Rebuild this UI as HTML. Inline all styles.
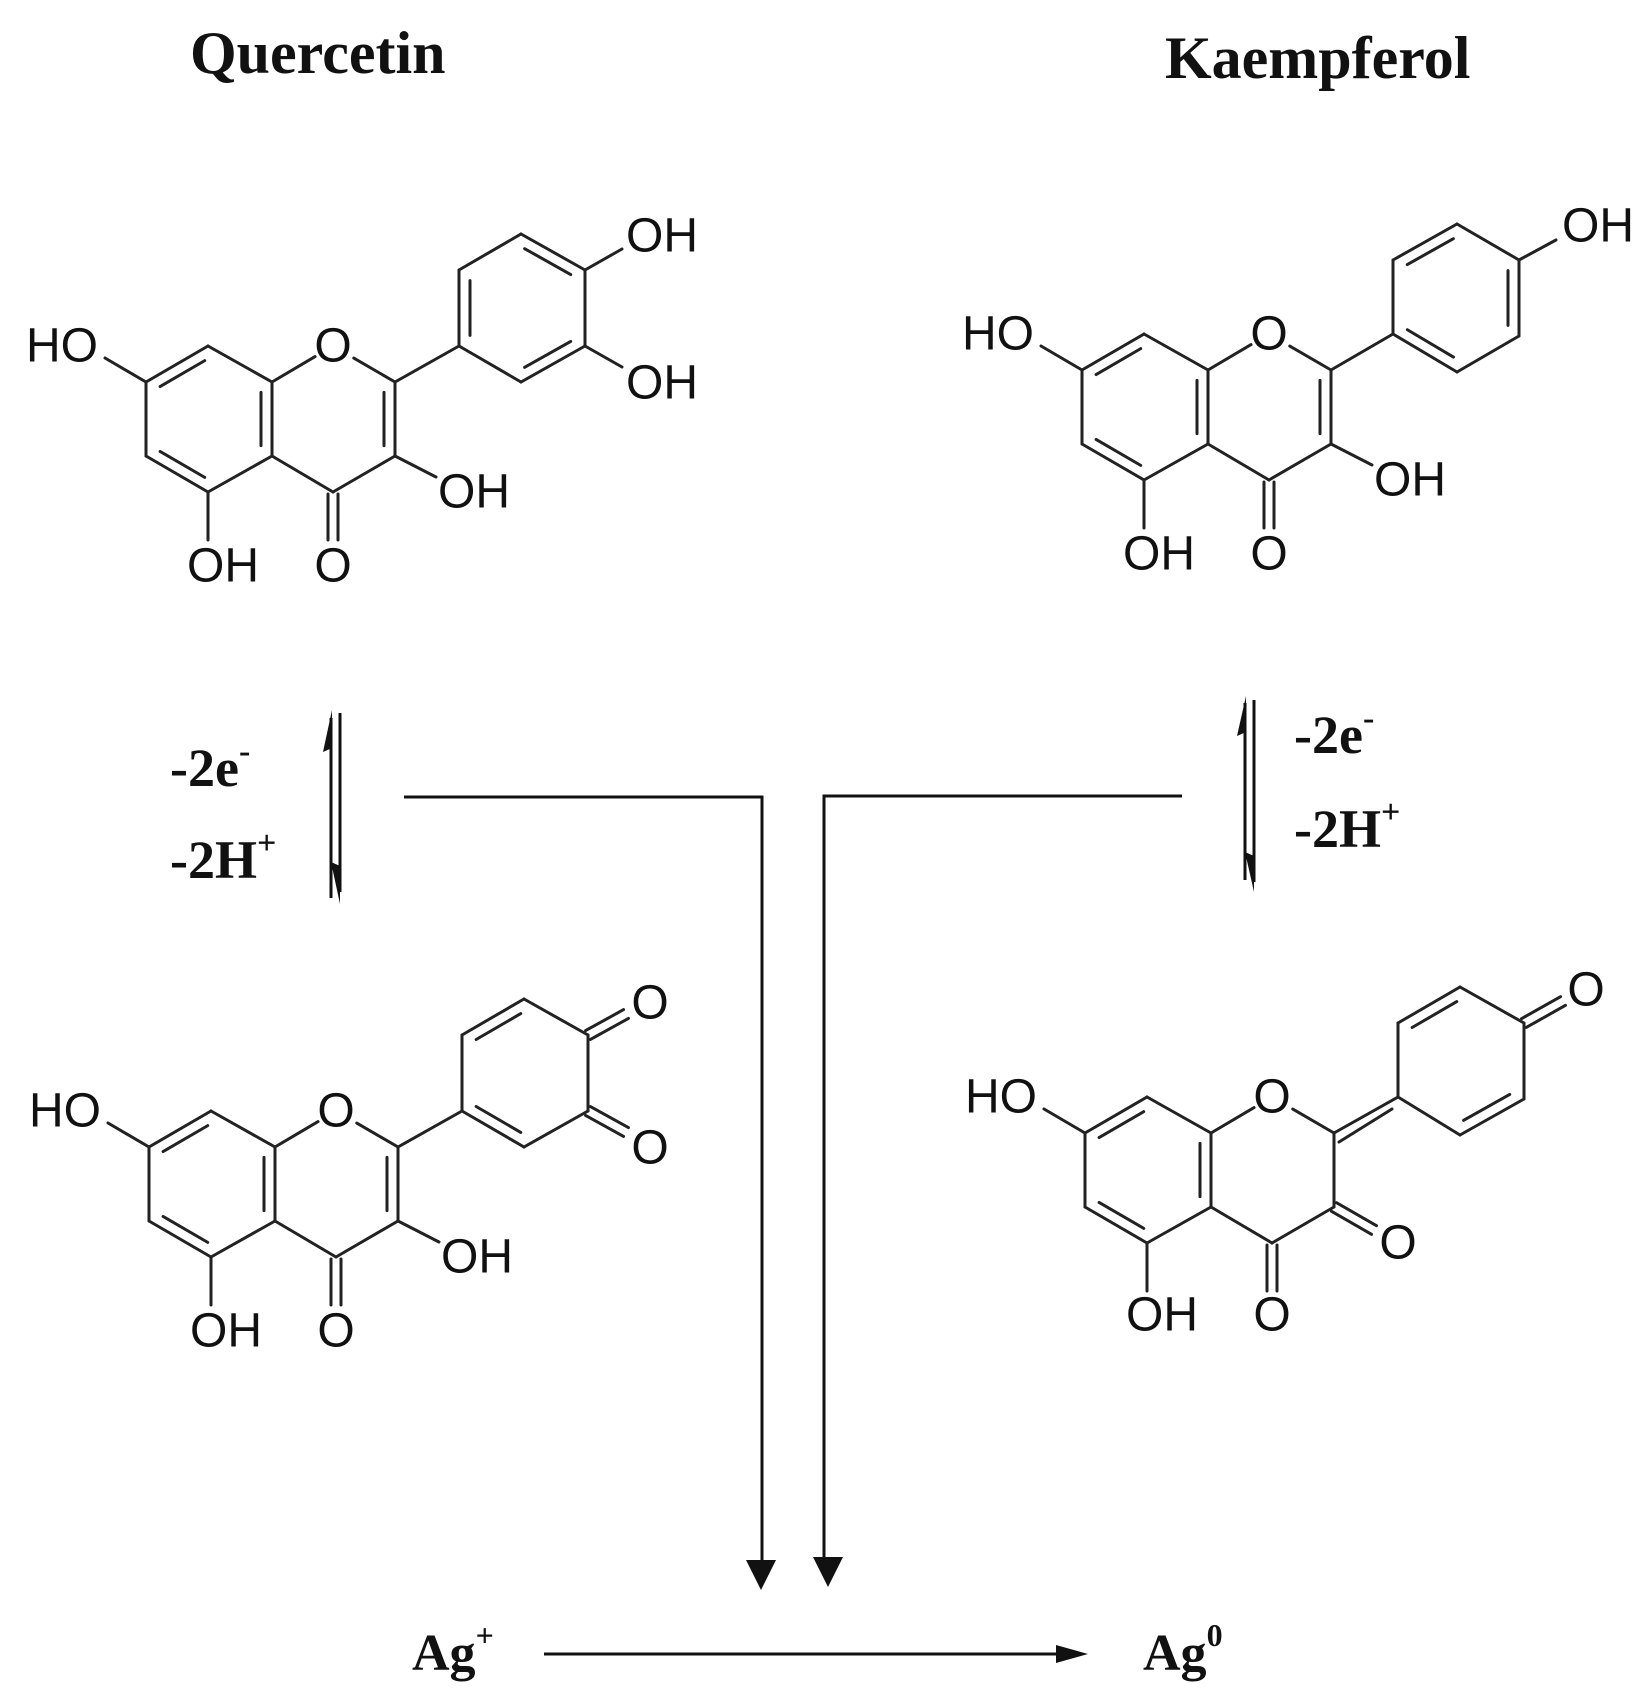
<!DOCTYPE html>
<html><head><meta charset="utf-8"><style>
html,body{margin:0;padding:0;background:#fff}
svg{display:block}
.l{font-family:"Liberation Sans",Arial,sans-serif;font-size:48px;fill:#111}
.s{font-family:"Liberation Serif","Times New Roman",serif;font-weight:bold;fill:#111}
</style></head><body>
<svg id="sv" width="1651" height="1692" viewBox="0 0 1651 1692" xmlns="http://www.w3.org/2000/svg">
<g id="bonds" stroke="#222" stroke-width="3" fill="none" stroke-linecap="round"></g>
<g class="l" text-anchor="middle" dominant-baseline="central">
<text x="62" y="346">HO</text><text x="333" y="346">O</text><text x="474" y="492">OH</text>
<text x="223" y="566">OH</text><text x="333" y="566">O</text><text x="662" y="236">OH</text><text x="662" y="383">OH</text>
<text x="998" y="334">HO</text><text x="1269" y="334">O</text><text x="1410" y="480">OH</text>
<text x="1159" y="554">OH</text><text x="1269" y="554">O</text><text x="1598" y="226">OH</text>
<text x="65" y="1111">HO</text><text x="336" y="1111">O</text><text x="477" y="1257">OH</text>
<text x="226" y="1331">OH</text><text x="336" y="1331">O</text><text x="650" y="1003">O</text><text x="650" y="1148">O</text>
<text x="1001" y="1097">HO</text><text x="1272" y="1097">O</text><text x="1162" y="1315">OH</text>
<text x="1272" y="1315">O</text><text x="1398" y="1243">O</text><text x="1586" y="990">O</text>
</g>
<text class="s" x="190" y="73" font-size="60">Quercetin</text>
<text class="s" x="1165" y="78" font-size="60">Kaempferol</text>
<text class="s" x="170" y="786" font-size="54">-2e<tspan font-size="34" dy="-24">-</tspan></text>
<text class="s" x="170" y="878" font-size="54">-2H<tspan font-size="34" dy="-24">+</tspan></text>
<text class="s" x="1294" y="753" font-size="54">-2e<tspan font-size="34" dy="-24">-</tspan></text>
<text class="s" x="1294" y="847" font-size="54">-2H<tspan font-size="34" dy="-24">+</tspan></text>
<text class="s" x="412" y="1670" font-size="52" font-weight="normal">Ag<tspan font-size="32" dy="-24">+</tspan></text>
<text class="s" x="1143" y="1670" font-size="52" font-weight="normal">Ag<tspan font-size="32" dy="-24">0</tspan></text>
<g stroke="#111" stroke-width="3" fill="none">
<line x1="331" y1="718" x2="331" y2="898"/>
<line x1="340" y1="713" x2="340" y2="892"/>
<line x1="1245" y1="703" x2="1245" y2="880"/>
<line x1="1254" y1="700" x2="1254" y2="882"/>
<polyline points="404,797 762,797 762,1565"/>
<polyline points="1182,796 824,796 824,1562"/>
<line x1="544" y1="1654" x2="1062" y2="1654"/>
</g>
<g fill="#111">
<polygon points="332,710 323,752 332,748"/>
<polygon points="340,904 331,862 340,866"/>
<polygon points="1246,696 1237,736 1246,732"/>
<polygon points="1254,892 1245,852 1254,856"/>
<polygon points="746,1560 776,1560 761,1590"/>
<polygon points="813,1557 843,1557 828,1587"/>
<polygon points="1056,1645 1088,1654 1056,1663"/>
</g>
</svg>
<script>
var g=document.getElementById('bonds');
function L(a,b){var e=document.createElementNS('http://www.w3.org/2000/svg','line');e.setAttribute('x1',a[0]);e.setAttribute('y1',a[1]);e.setAttribute('x2',b[0]);e.setAttribute('y2',b[1]);g.appendChild(e);}
function sh(a,b,r){var dx=b[0]-a[0],dy=b[1]-a[1],d=Math.hypot(dx,dy);return [a[0]+dx*r/d,a[1]+dy*r/d];}
function inner(a,b,c){
 var mx=(a[0]+b[0])/2,my=(a[1]+b[1])/2,dx=c[0]-mx,dy=c[1]-my,d=Math.hypot(dx,dy),o=11;
 var ox=dx/d*o,oy=dy/d*o,f=0.14;
 var p=[a[0]+ox+(b[0]-a[0])*f,a[1]+oy+(b[1]-a[1])*f],q=[b[0]+ox-(b[0]-a[0])*f,b[1]+oy-(b[1]-a[1])*f];L(p,q);}
function dbl(a,b){var dx=b[0]-a[0],dy=b[1]-a[1],d=Math.hypot(dx,dy),nx=-dy/d*5,ny=dx/d*5;
 L([a[0]+nx,a[1]+ny],[b[0]+nx,b[1]+ny]);L([a[0]-nx,a[1]-ny],[b[0]-nx,b[1]-ny]);}
function T(p,s){return [p[0]+s[0],p[1]+s[1]];}
function core(s,kq){
 var C7=T([146,382],s),C8=T([208,346],s),C8a=T([272,382],s),O1=T([333,346],s),C2=T([395,382],s),C3=T([395,456],s),
 C4=T([333,492],s),C4a=T([272,456],s),C5=T([208,492],s),C6=T([146,456],s),cA=T([208,419],s),cC=T([333,419],s);
 L(C7,C8);inner(C7,C8,cA);L(C8,C8a);L(C8a,sh(C8a,O1,74-24));L(sh(O1,C2,24),C2);
 L(C2,C3);if(!kq)inner(C2,C3,cC);L(C3,C4);L(C4,C4a);L(C4a,C8a);inner(C8a,C4a,cA);L(C4a,C5);L(C5,C6);inner(C5,C6,cA);L(C6,C7);
 L(C7,T([105,358],s));L(C5,T([208,540],s));
 dbl(T([333,494],s),T([333,540],s));
 L(C3,T([436,477],s));
}
function ring(P,c,dbls){for(var i=0;i<6;i++){L(P[i],P[(i+1)%6]);}dbls.forEach(function(k){inner(P[k],P[(k+1)%6],c);});}
core([0,0]);L([395,382],[459,346]);
ring([[459,346],[459,270],[521,234],[585,270],[585,346],[521,382]],[522,308],[0,2,4]);
L([585,270],[622,249]);L([585,346],[622,367]);
core([936,-12]);L([1331,370],[1393,334]);
ring([[1393,334],[1393,260],[1457,224],[1519,260],[1519,336],[1457,372]],[1456,298],[1,3,5]);
L([1519,260],[1556,240]);
core([3,765]);L([398,1147],[462,1111]);
ring([[462,1111],[462,1035],[524,999],[588,1035],[588,1111],[524,1147]],[525,1073],[1,5]);
dbl([588,1035],[626,1014]);dbl([588,1111],[626,1132]);
(function(){var s=[939,751];
 var C7=T([146,382],s),C8=T([208,346],s),C8a=T([272,382],s),O1=T([333,346],s),C2=T([395,382],s),C3=T([395,456],s),
 C4=T([333,492],s),C4a=T([272,456],s),C5=T([208,492],s),C6=T([146,456],s),cA=T([208,419],s);
 L(C7,C8);inner(C7,C8,cA);L(C8,C8a);L(C8a,sh(C8a,O1,50));L(sh(O1,C2,24),C2);
 L(C2,C3);L(C3,C4);L(C4,C4a);L(C4a,C8a);inner(C8a,C4a,cA);L(C4a,C5);L(C5,C6);inner(C5,C6,cA);L(C6,C7);
 L(C7,T([105,358],s));L(C5,T([208,540],s));dbl(T([333,494],s),T([333,540],s));
 dbl(C3,[1374,1230]);
 var P=[[1398,1097],[1398,1023],[1460,987],[1524,1023],[1524,1099],[1460,1135]];
 ring(P,[1461,1061],[1,4]);
 L(C2,P[0]);L([C2[0]+5,C2[1]+9],[P[0][0]-6,P[0][1]+12]);
 dbl([1524,1023],[1563,1001]);
})();
</script>
</body></html>
